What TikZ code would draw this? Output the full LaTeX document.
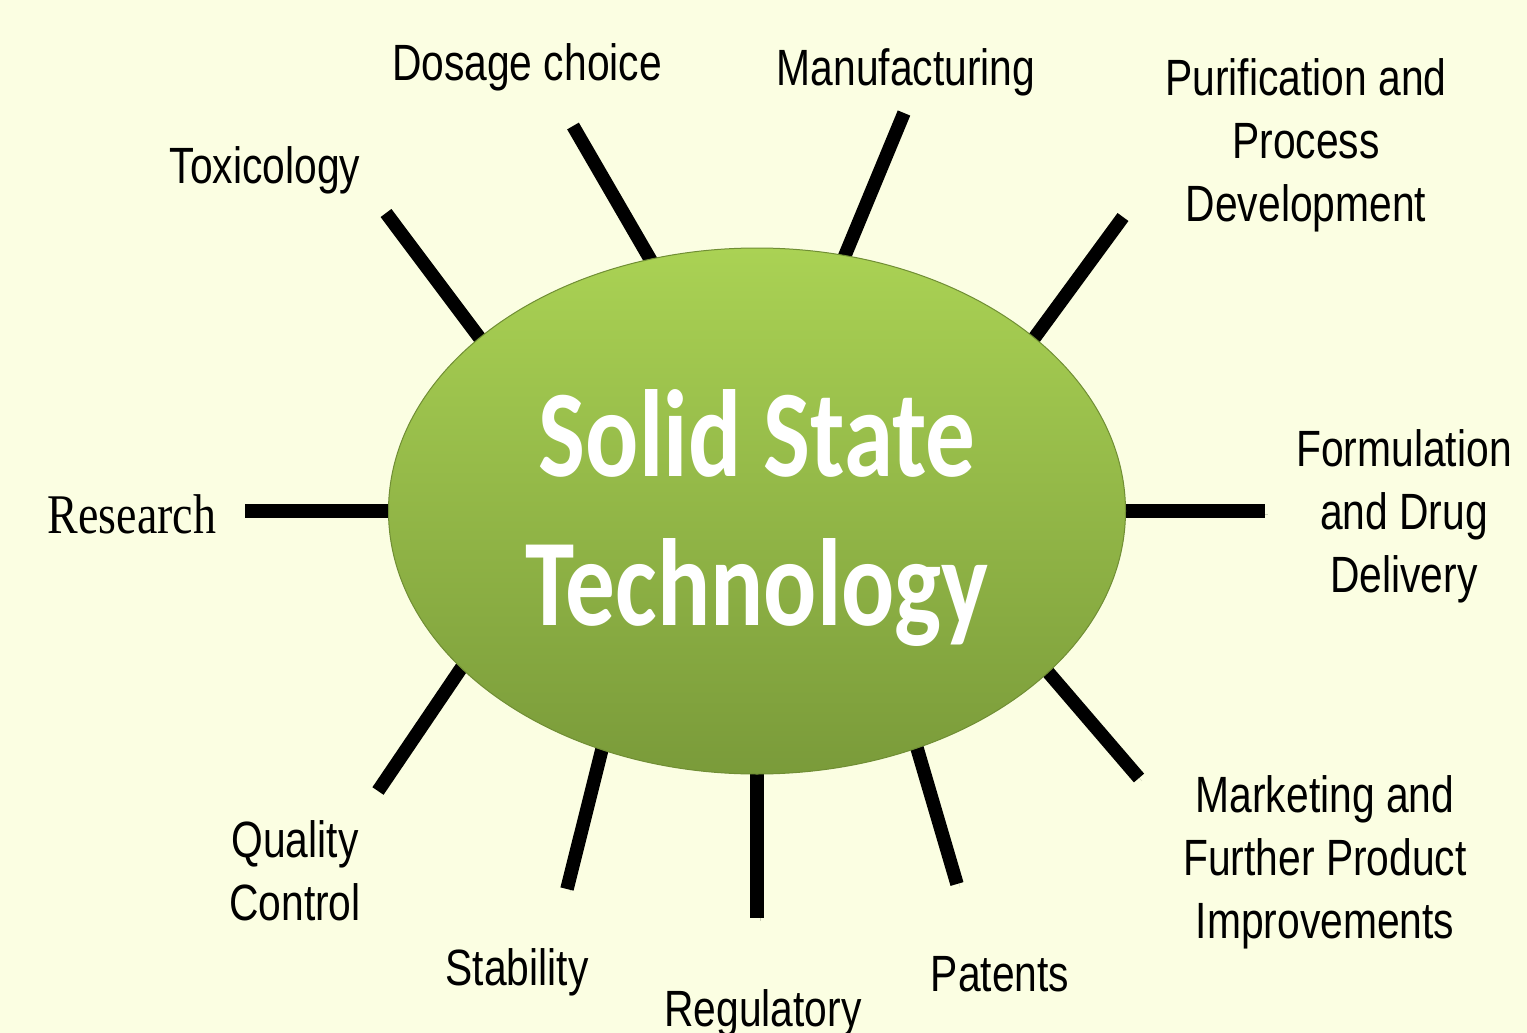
\documentclass[tikz,border=0pt]{standalone}
\usepackage{fontspec}
\newfontfamily\labelfont{Liberation Sans}[FakeStretch=0.8]
\newfontfamily\researchfont{Liberation Serif}[FakeStretch=0.82]
\newfontfamily\hubfont{Carlito}[FakeStretch=0.8]
\usepackage{tikz}
\usetikzlibrary{shapes.geometric, backgrounds}
\definecolor{pagebg}{RGB}{251, 254, 226}
\definecolor{hubtop}{RGB}{170, 210, 84}
\definecolor{hubbottom}{RGB}{122, 155, 58}
\definecolor{hubrim}{RGB}{112, 142, 52}

\begin{document}
\begin{tikzpicture}[
    x=1pt, y=-1pt,
    lbl/.style={font=\labelfont\fontsize{51}{63}\selectfont, align=center,
                inner sep=0pt, anchor=base},
    spoke/.style={line width=13.5pt, black, shorten <=-30pt,
                  preaction={draw=black, opacity=0.18,
                             transform canvas={shift={(3,3)}}}},
    hub/.style={ellipse, minimum width=737pt, minimum height=526pt,
                inner sep=0pt, top color=hubtop, bottom color=hubbottom,
                draw=hubrim, line width=1pt, align=center, text=white,
                font=\hubfont\bfseries\fontsize{124}{149}\selectfont},
  ]
    \useasboundingbox (0,0) rectangle (1527,1033);

    % centre
    \node[hub] (hub) at (757,511) {\rule{0pt}{100pt}Solid State\\Technology};

    % outer ends of the spokes
    \coordinate (toxEnd) at (386,213);
    \coordinate (doseEnd) at (573,126);
    \coordinate (manuEnd) at (904,113);
    \coordinate (purEnd) at (1123,217);
    \coordinate (formEnd) at (1265,511);
    \coordinate (markEnd) at (1139,778);
    \coordinate (patEnd) at (957,884);
    \coordinate (regEnd) at (757,918);
    \coordinate (stabEnd) at (567,889);
    \coordinate (qcEnd) at (378,791);
    \coordinate (resEnd) at (245,511);

    % page and spokes, behind the ellipse
    \begin{scope}[on background layer]
      \fill[pagebg] (0,0) rectangle (1527,1033);
      \draw[spoke] (hub.148) -- (toxEnd);
      \draw[spoke] (hub.113) -- (doseEnd);
      \draw[spoke] (hub.71) -- (manuEnd);
      \draw[spoke] (hub.32) -- (purEnd);
      \draw[spoke] (hub.0) -- (formEnd);
      \draw[spoke] (hub.331) -- (markEnd);
      \draw[spoke] (hub.304.5) -- (patEnd);
      \draw[spoke] (hub.270) -- (regEnd);
      \draw[spoke] (hub.237) -- (stabEnd);
      \draw[spoke] (hub.208) -- (qcEnd);
      \draw[spoke] (hub.180) -- (resEnd);
    \end{scope}

    % labels (base = last line)
    \node[lbl] (tox) at (265,183) {Toxicology};
    \node[lbl] (dose) at (527,81) {Dosage choice};
    \node[lbl] (manu) at (906,85) {Manufacturing};
    \node[lbl] (pur) at (1306,221) {Purification and\\Process\\Development};
    \node[lbl] (form) at (1404,592) {Formulation\\and Drug\\Delivery};
    \node[lbl] (mark) at (1325,938) {Marketing and\\Further Product\\Improvements};
    \node[lbl] (pat) at (1000,991) {Patents};
    \node[lbl] (reg) at (763,1026) {Regulatory};
    \node[lbl] (stab) at (517,985) {Stability};
    \node[lbl] (qc) at (295,920) {Quality\\Control};
    \node[lbl, font=\researchfont\fontsize{56}{60}\selectfont] (res) at (132,533) {Research};
\end{tikzpicture}
\end{document}
